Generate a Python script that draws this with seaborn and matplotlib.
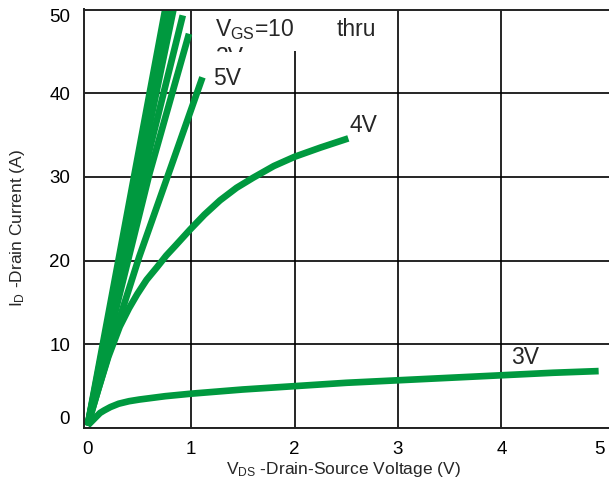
import matplotlib
matplotlib.use("Agg")
import matplotlib.pyplot as plt
import seaborn as sns
import pandas as pd
from matplotlib.patches import Rectangle
from matplotlib.transforms import Bbox, TransformedBbox

# ---- data ----
vds_10v = [0.0, 0.75]
id_10v = [0.3, 50.0]
vds_9v = [0.0, 0.79]
id_9v = [0.3, 50.0]
vds_8v = [0.0, 0.83]
id_8v = [0.3, 50.0]
vds_7v = [0.0, 0.30, 0.60, 0.92]
id_7v = [0.3, 17.0, 33.3, 49.3]
vds_6v = [0.0, 0.30, 0.60, 0.98]
id_6v = [0.3, 15.5, 30.5, 47.1]
vds_5v = [0.0, 0.25, 0.50, 0.80, 1.11]
id_5v = [0.3, 10.8, 20.5, 31.0, 41.9]
vds_4v = [0.0, 0.05, 0.10, 0.20, 0.31, 0.40, 0.48, 0.57, 0.67, 0.76, 0.85, 0.99, 1.13, 1.28, 1.44, 1.60, 1.80, 2.00, 2.25, 2.52]
id_4v = [0.3, 2.4, 4.5, 8.5, 12.1, 14.3, 16.0, 17.7, 19.2, 20.6, 21.8, 23.7, 25.5, 27.2, 28.7, 29.9, 31.3, 32.4, 33.5, 34.6]
vds_3v = [0.0, 0.04, 0.08, 0.12, 0.16, 0.22, 0.30, 0.40, 0.50, 0.75, 1.00, 1.50, 2.00, 2.50, 3.00, 3.50, 4.00, 4.50, 4.94]
id_3v = [0.3, 0.8, 1.3, 1.8, 2.1, 2.5, 2.9, 3.2, 3.4, 3.8, 4.1, 4.6, 5.0, 5.4, 5.7, 6.0, 6.3, 6.6, 6.8]

series = [("10V", vds_10v, id_10v), ("9V", vds_9v, id_9v), ("8V", vds_8v, id_8v),
          ("7V", vds_7v, id_7v), ("6V", vds_6v, id_6v), ("5V", vds_5v, id_5v),
          ("4V", vds_4v, id_4v), ("3V", vds_3v, id_3v)]

x_ticks = [0, 1, 2, 3, 4, 5]
y_ticks = [0, 10, 20, 30, 40, 50]
x_label = "V$_{DS}$ -Drain-Source Voltage (V)"
y_label = "I$_{D}$ -Drain Current (A)"

rows = []
for name, xs, ys in series:
    for xv, yv in zip(xs, ys):
        rows.append({"vgs": name, "vds": xv, "id": yv})
df = pd.DataFrame(rows)

# ---- style ----
sns.set_theme(style="white")
plt.rcParams["font.family"] = ["Liberation Sans", "DejaVu Sans"]
plt.rcParams["mathtext.default"] = "regular"

green = "#00993f"
fig = plt.figure(figsize=(6.09, 4.88), dpi=100)
ax = fig.add_axes([84 / 609, 60 / 488, 525 / 609, 418.5 / 488])

sns.lineplot(data=df, x="vds", y="id", hue="vgs", units="vgs", estimator=None,
             sort=False, palette={n: green for n, _, _ in series}, legend=False,
             linewidth=4.8, ax=ax, zorder=2)
for ln in ax.lines:
    ln.set_solid_capstyle("butt")
    ln.set_solid_joinstyle("round")

ax.set_xlim(-0.035, 5.04)
ax.set_ylim(0, 50)
ax.set_xticks(x_ticks)
ax.set_yticks(y_ticks)
ax.set_xticklabels([str(v) for v in x_ticks])
ax.set_yticklabels([str(v) for v in y_ticks])
ax.tick_params(axis="both", length=0, labelsize=13.5, colors="black")
ax.tick_params(axis="x", pad=9)
ax.tick_params(axis="y", pad=10)
ylabs = ax.get_yticklabels()
ylabs[0].set_va("bottom")
ylabs[-1].set_va("top")
xlabs = ax.get_xticklabels()
xlabs[-1].set_ha("right")

ax.grid(True, color="black", linewidth=1.2)
ax.set_axisbelow(True)
ax.xaxis.get_gridlines()[0].set_visible(False)
ax.xaxis.get_gridlines()[-1].set_visible(False)

for side in ["left", "top", "bottom"]:
    ax.spines[side].set_color("#222222")
    ax.spines[side].set_linewidth(1.4)
ax.spines["right"].set_visible(False)

ax.set_xlabel(x_label, fontsize=12.5)
ax.set_ylabel(y_label, fontsize=12.5)
ax.xaxis.set_label_coords((343 - 84) / 525, -(460 - 428) / 418.5)
ax.yaxis.set_label_coords(-(84 - 27) / 525, (428 - 228) / 418.5)

# white box behind the legend-like text
ax.add_patch(Rectangle((1.2, 45.0), 1.75, 5.0, facecolor="white", edgecolor="none", zorder=1.5))

fs = 16.5
ax.text(1.23, 47.6, "V$_{GS}$=10", fontsize=fs, va="center", ha="left", zorder=3)
ax.text(2.41, 47.6, "thru", fontsize=fs, va="center", ha="left", zorder=3)
hidden = ax.text(1.23, 45.6, "3V", fontsize=fs, va="top", ha="left", zorder=3)
hidden.set_clip_box(TransformedBbox(Bbox([[1.1, 44.9], [2.0, 50.0]]), ax.transData))
hidden.set_clip_on(True)

ax.text(1.21, 41.8, "5V", fontsize=fs, va="center", ha="left", zorder=3)
ax.text(2.53, 36.1, "4V", fontsize=fs, va="center", ha="left", zorder=3)
ax.text(4.09, 8.4, "3V", fontsize=fs, va="center", ha="left", zorder=3)

fig.savefig("out.png", dpi=100)
